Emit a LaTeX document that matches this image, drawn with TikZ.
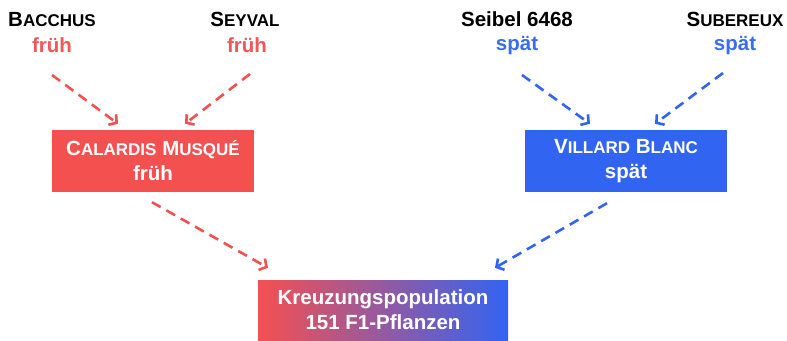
\documentclass[tikz,border=0pt]{standalone}
\usepackage{fontspec}
\setmainfont{Liberation Sans}
\usepackage{xcolor}
\usepackage{tikz}
\usetikzlibrary{arrows.meta, calc}
\definecolor{KrRed}{RGB}{245,80,80}
\definecolor{KrBlue}{RGB}{50,100,242}
\definecolor{KrPurple}{RGB}{165,82,210}
\definecolor{KrRedTxt}{RGB}{240,88,88}
\definecolor{KrBlueTxt}{RGB}{58,108,236}
% fake small caps: first letter big, rest smaller
\newcommand{\kap}[2]{#1{\fontsize{17}{25}\selectfont #2}}

\begin{document}
\begin{tikzpicture}[x=1pt, y=1pt,
          lbl/.style={font=\bfseries\fontsize{20.5}{25}\selectfont, inner sep=0pt,
                      anchor=base},
          box/.style={rectangle, minimum width=202pt, minimum height=62pt,
                      font=\bfseries\fontsize{20.5}{25}\selectfont, text=white,
                      align=center, inner sep=0pt},
          arr/.style={-{Straight Barb[length=5.5pt, width=13pt]}, line width=2.6pt,
                      dash pattern=on 10pt off 6.5pt}
        ]
        \useasboundingbox[fill=white] (0,0) rectangle (787,-340);

        % Parents, top row
        \node[lbl]                  (bac)  at (52,-27)  {\kap{B}{ACCHUS}};
        \node[lbl, text=KrRedTxt]   (bacZ) at (52,-52)  {früh};
        \node[lbl]                  (sey)  at (245,-27) {\kap{S}{EYVAL}};
        \node[lbl, text=KrRedTxt]   (seyZ) at (247,-52) {früh};
        \node[lbl]                  (sei)  at (517,-26) {Seibel 6468};
        \node[lbl, text=KrBlueTxt]  (seiZ) at (517,-50) {spät};
        \node[lbl]                  (sub)  at (735,-27) {\kap{S}{UBEREUX}};
        \node[lbl, text=KrBlueTxt]  (subZ) at (735,-50) {spät};

        % Crossing parents
        \node[box, fill=KrRed]  (cal) at (153,-161)
              {\kap{C}{ALARDIS} \kap{M}{USQUÉ}\\früh};
        \node[box, fill=KrBlue] (vil) at (626,-161)
              {\kap{V}{ILLARD} \kap{B}{LANC}\\spät};

        % Offspring
        \node[box, minimum width=250pt, minimum height=60pt,
              left color=KrRed, middle color=KrPurple, right color=KrBlue]
              (kreuz) at (383,-310) {Kreuzungspopulation\\151 F1-Pflanzen};

        \draw[arr, KrRed]  ($(bacZ.base)+(0,-23)$) -- ($(cal.north)+(-35,6)$);
        \draw[arr, KrRed]  ($(seyZ.base)+(3,-22)$) -- ($(cal.north)+(32,6)$);
        \draw[arr, KrBlue] ($(seiZ.base)+(5,-25)$) -- ($(vil.north)+(-36,6)$);
        \draw[arr, KrBlue] ($(subZ.base)+(-12,-23)$) -- ($(vil.north)+(29,6)$);

        \draw[arr, KrRed]  ($(cal.south)+(-1,-10)$) -- ($(kreuz.north)+(-115,12)$);
        \draw[arr, KrBlue] ($(vil.south)+(-19,-11)$) -- ($(kreuz.north)+(112,12)$);
      \end{tikzpicture}
\end{document}
